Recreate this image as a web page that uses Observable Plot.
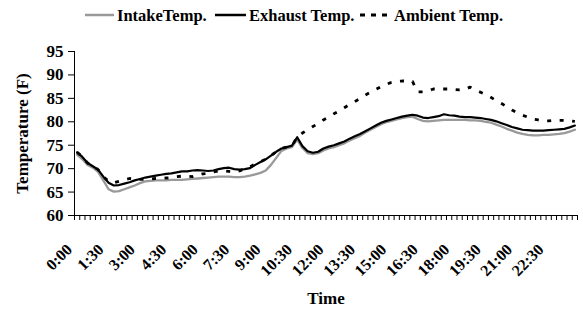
<!DOCTYPE html>
<html><head><meta charset="utf-8">
<script src="https://cdn.jsdelivr.net/npm/d3@7"></script>
<script src="https://cdn.jsdelivr.net/npm/@observablehq/plot@0.6"></script>
<style>
html,body{margin:0;padding:0;background:#fff;}
svg{display:block;}
#legend text{font-family:"Liberation Serif","Times New Roman",serif;font-weight:bold;font-size:16.5px;fill:#000;}
</style></head><body>
<svg id="legend" width="583" height="30"></svg>
<div id="chart"></div>
<script>
// Temperatures every 15 minutes, 0:00 .. 23:45 (96 readings)
const intake = [73.0,72.0,70.8,70.2,69.3,67.5,65.6,65.1,65.2,65.6,66.0,66.4,66.9,67.3,67.4,67.5,
67.5,67.5,67.6,67.6,67.6,67.7,67.8,67.9,68.0,68.1,68.2,68.3,68.3,68.3,68.2,68.2,
68.3,68.5,68.8,69.1,69.6,70.8,72.3,73.8,74.3,74.6,76.2,74.4,73.3,73.1,73.3,73.9,
74.3,74.6,75.0,75.4,76.0,76.5,77.0,77.7,78.3,78.9,79.5,79.9,80.2,80.5,80.8,81.0,
81.1,80.6,80.2,80.1,80.2,80.3,80.4,80.4,80.4,80.4,80.4,80.3,80.3,80.2,80.0,79.8,
79.4,79.0,78.5,78.1,77.7,77.4,77.2,77.1,77.1,77.2,77.2,77.3,77.4,77.6,77.9,78.3];
const exhaust = [73.5,72.5,71.2,70.5,69.8,68.3,67.0,66.4,66.5,66.8,67.1,67.5,67.8,68.1,68.3,68.5,
68.7,68.9,69.0,69.2,69.4,69.4,69.6,69.7,69.6,69.5,69.6,69.9,70.1,70.2,69.9,69.8,
69.9,70.1,70.8,71.4,72.0,72.8,73.6,74.3,74.6,74.9,76.7,74.8,73.7,73.4,73.6,74.3,
74.7,75.0,75.4,75.8,76.4,76.9,77.4,78.0,78.6,79.2,79.8,80.2,80.5,80.8,81.1,81.3,
81.5,81.3,80.9,80.8,81.0,81.2,81.6,81.4,81.3,81.1,81.0,81.0,80.9,80.8,80.6,80.4,
80.1,79.7,79.3,78.9,78.6,78.3,78.2,78.1,78.1,78.1,78.2,78.3,78.4,78.5,78.8,79.2];
const ambient = [73.5,72.5,71.2,70.5,69.8,68.3,67.3,67.0,67.3,67.6,67.9,67.8,67.7,67.7,67.8,67.9,
67.9,68.0,68.1,68.3,68.4,68.4,68.3,68.6,68.9,69.0,69.3,69.5,69.5,69.4,69.3,69.5,
70.0,70.4,71.0,71.5,72.0,72.8,73.6,74.3,74.6,74.9,76.7,77.6,78.3,79.0,79.6,80.4,
81.0,81.7,82.3,83.0,83.7,84.3,85.0,85.7,86.3,86.9,87.5,88.0,88.4,88.6,88.7,88.7,
88.6,86.4,86.4,86.6,87.0,87.0,87.0,87.0,86.9,86.8,86.9,87.4,86.8,86.3,85.8,85.2,
84.5,83.9,83.2,82.5,81.9,81.4,81.0,80.6,80.4,80.2,80.2,80.3,80.3,80.3,80.2,80.1];
const xTickLabels = ["0:00","1:30","3:00","4:30","6:00","7:30","9:00","10:30",
"12:00","13:30","15:00","16:30","18:00","19:30","21:00","22:30"];
const yTicks = [60,65,70,75,80,85,90,95];
const seriesNames = ["IntakeTemp.","Exhaust Temp.","Ambient Temp."];

const times = d3.range(96).map(i => `${Math.floor(i/4)}:${String((i%4)*15).padStart(2,"0")}`);
const rows = (vals) => vals.map((v,i) => ({i, v}));
const boundaries = d3.range(97).map(k => k - 0.5);
const font = `"Liberation Serif","Times New Roman",serif`;

// Legend
const lg = d3.select("#legend");
const swatches = [
  {x1:85,x2:114,stroke:"#999",w:2.5,dash:null,tx:117},
  {x1:215,x2:246,stroke:"#000",w:2.5,dash:null,tx:249},
  {x1:360,x2:390,stroke:"#000",w:3,dash:"5,6",tx:394}
];
swatches.forEach((s,k) => {
  lg.append("line").attr("x1",s.x1).attr("x2",s.x2).attr("y1",15).attr("y2",15)
    .attr("stroke",s.stroke).attr("stroke-width",s.w).attr("stroke-dasharray",s.dash);
  lg.append("text").attr("x",s.tx).attr("y",20.5).text(seriesNames[k]);
});

const chart = Plot.plot({
  width: 583, height: 279,
  marginTop: 21, marginBottom: 94, marginLeft: 74, marginRight: 6,
  style: {fontFamily: font, fontWeight: "bold", fontSize: "16px", background: "#fff", color: "#000", overflow: "visible"},
  x: {domain: [-0.5, 95.5], axis: null},
  y: {domain: [60, 95], axis: null},
  marks: [
    Plot.axisY(yTicks, {tickSize: 6, tickPadding: 5, fontSize: 17, fontWeight: "bold", label: null, stroke: "#000"}),
    Plot.axisX(boundaries, {tickSize: 5, tickFormat: () => "", label: null, stroke: "#000"}),
    Plot.ruleX([-0.5], {y1: 60, y2: 95, stroke: "#000"}),
    Plot.ruleY([60], {stroke: "#000"}),
    Plot.line(rows(intake), {x: "i", y: "v", stroke: "#999", strokeWidth: 2.3}),
    Plot.line(rows(exhaust), {x: "i", y: "v", stroke: "#000", strokeWidth: 2.2}),
    Plot.line(rows(ambient), {x: "i", y: "v", stroke: "#000", strokeWidth: 2.8, strokeDasharray: "4,8.5", strokeLinecap: "butt"}),
    Plot.text(xTickLabels, {x: d => times.indexOf(d), frameAnchor: "bottom", text: d => d, rotate: -45,
      textAnchor: "end", lineAnchor: "bottom", dx: -4, dy: 35, fontSize: 16, fontWeight: "bold"}),
    Plot.text(["Time"], {frameAnchor: "bottom", text: d => d, textAnchor: "middle", lineAnchor: "bottom", dy: 88, fontSize: 17, fontWeight: "bold"}),
    Plot.text(["Temperature (F)"], {frameAnchor: "left", text: d => d, rotate: -90, textAnchor: "middle", lineAnchor: "bottom", dx: -47, fontSize: 17, fontWeight: "bold"})
  ]
});
document.getElementById("chart").appendChild(chart);
</script>
</body></html>
